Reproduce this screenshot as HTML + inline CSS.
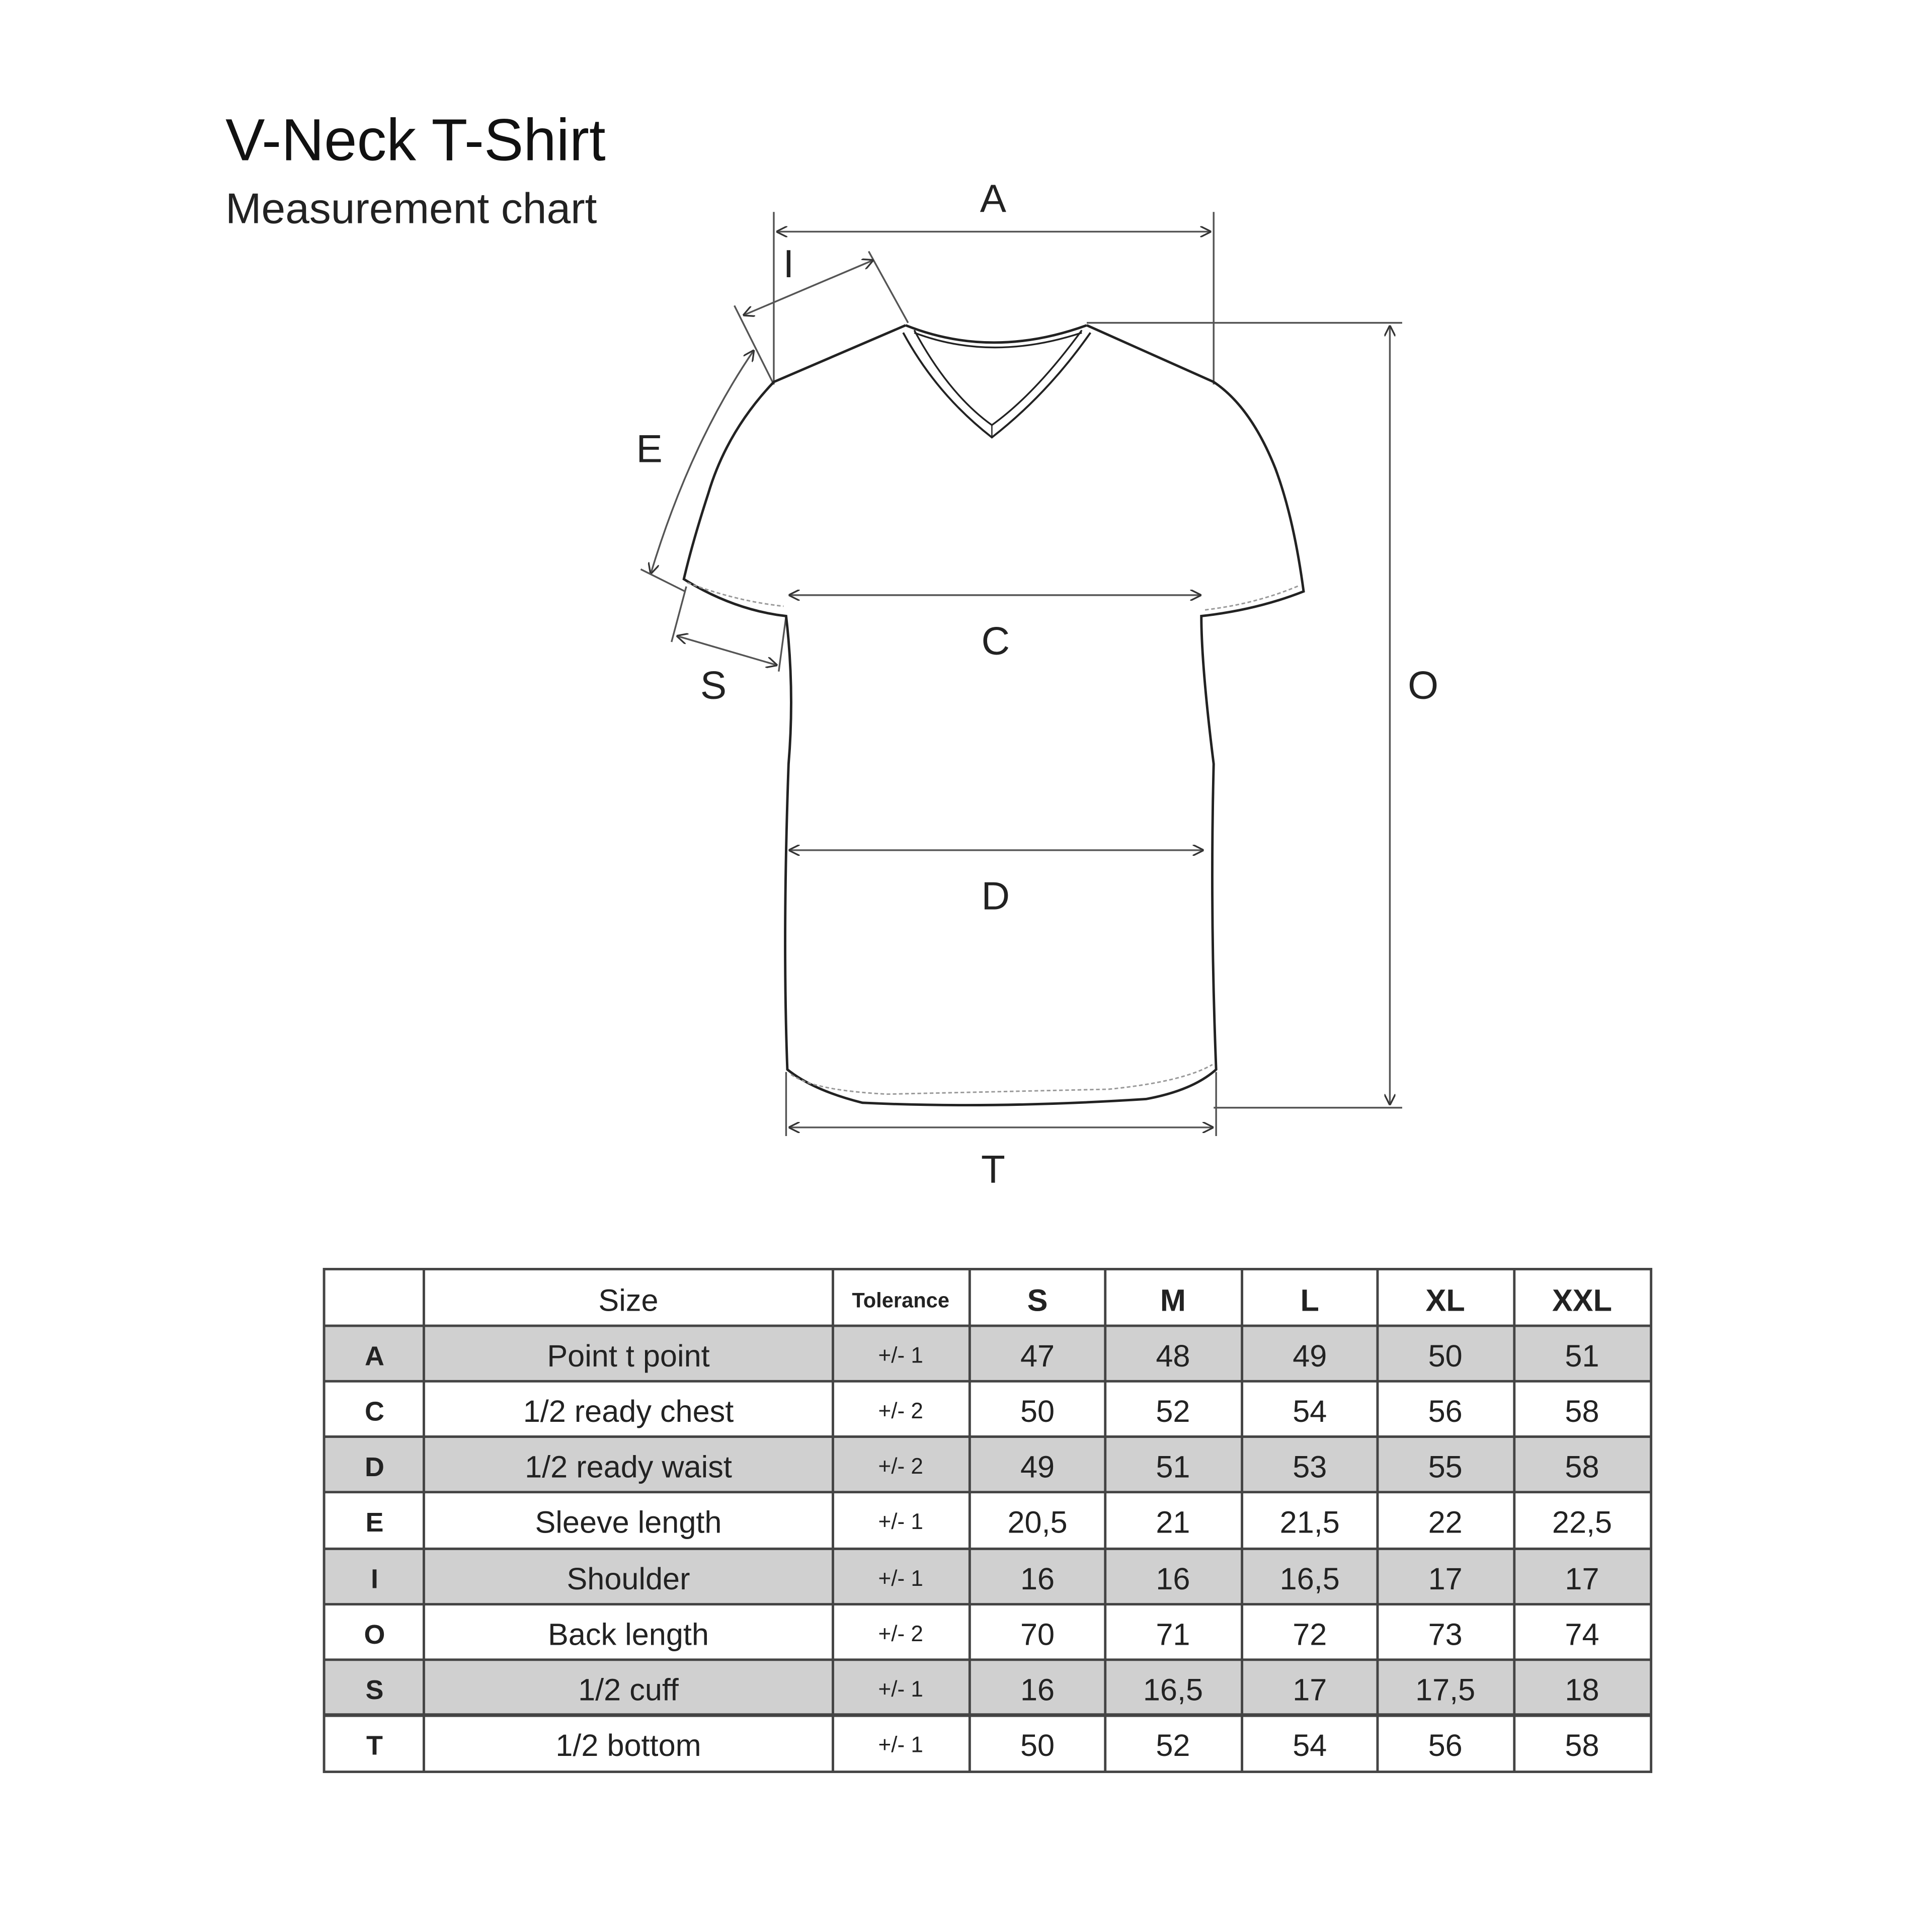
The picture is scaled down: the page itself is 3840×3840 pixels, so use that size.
<!DOCTYPE html>
<html><head><meta charset="utf-8"><style>html,body{margin:0;padding:0;background:#fff}svg{display:block}</style></head>
<body>
<svg width="3840" height="3840" viewBox="0 0 1568 1568" xmlns="http://www.w3.org/2000/svg" font-family="Liberation Sans, sans-serif">
<defs>
<marker id="ar" viewBox="0 0 10 10" refX="10" refY="5" markerWidth="9" markerHeight="9" orient="auto-start-reverse" markerUnits="userSpaceOnUse"><path d="M0,0 L10,5 L0,10" fill="none" stroke="#333" stroke-width="1.5"/></marker>
</defs>
<rect width="1568" height="1568" fill="#fff"/>
<text x="183" y="130" font-size="48" fill="#111">V-Neck T-Shirt</text>
<text x="183" y="181" font-size="35" fill="#222">Measurement chart</text>

<g fill="none" stroke="#555" stroke-width="1.4">
<line x1="628" y1="172" x2="628" y2="312"/><line x1="985" y1="172" x2="985" y2="312"/>
<line x1="630" y1="188" x2="983" y2="188" marker-start="url(#ar)" marker-end="url(#ar)"/>
<line x1="705" y1="204" x2="737" y2="262"/><line x1="596" y1="248" x2="628" y2="312"/>
<line x1="603" y1="256" x2="709" y2="211" marker-start="url(#ar)" marker-end="url(#ar)"/>
<path d="M612,284 Q560,360 528,466" marker-start="url(#ar)" marker-end="url(#ar)"/>
<line x1="520" y1="462" x2="556" y2="480"/>
<line x1="557" y1="476" x2="545" y2="521"/><line x1="638" y1="500" x2="632" y2="545"/>
<line x1="549" y1="516" x2="631" y2="540" marker-start="url(#ar)" marker-end="url(#ar)"/>
<line x1="640" y1="483" x2="975" y2="483" marker-start="url(#ar)" marker-end="url(#ar)"/>
<line x1="640" y1="690" x2="977" y2="690" marker-start="url(#ar)" marker-end="url(#ar)"/>
<line x1="638" y1="870" x2="638" y2="922"/><line x1="987" y1="870" x2="987" y2="922"/>
<line x1="640" y1="915" x2="985" y2="915" marker-start="url(#ar)" marker-end="url(#ar)"/>
<line x1="882" y1="262" x2="1138" y2="262"/><line x1="985" y1="899" x2="1138" y2="899"/>
<line x1="1128" y1="264" x2="1128" y2="897" marker-start="url(#ar)" marker-end="url(#ar)"/>
</g>

<g fill="none" stroke="#222" stroke-width="2">
<path d="M735,264 Q805,292 882,264"/>
<path d="M735,264 L628,310 Q590,350 575,400 Q562,440 555,470 Q595,495 638,500 Q645,560 640,620 Q635,760 639,868 Q660,885 700,895 Q805,900 930,892 Q968,885 987,868 Q982,740 985,620 Q975,540 975,500 Q1020,495 1058,480 Q1050,420 1035,380 Q1015,330 985,310 L882,264"/>
<path d="M733,270 Q760,320 805,355 Q850,320 885,270" stroke-width="1.6"/>
<path d="M742,268 Q770,320 805,345 Q840,320 878,268" stroke-width="1.4"/>
<path d="M742,270 Q805,294 878,270" stroke-width="1.4"/>
<line x1="805" y1="345" x2="805" y2="355" stroke-width="1"/>
</g>
<g fill="none" stroke="#999" stroke-width="1.2" stroke-dasharray="3,2">
<path d="M558,473 Q598,488 636,492"/>
<path d="M978,495 Q1020,490 1055,475"/>
<path d="M642,872 Q660,885 720,888 L900,884 Q960,878 984,864"/>
</g>

<g font-size="32" fill="#222" text-anchor="middle">
<text x="806" y="172">A</text>
<text x="640" y="225">I</text>
<text x="527" y="375">E</text>
<text x="808" y="531">C</text>
<text x="579" y="567">S</text>
<text x="1155" y="567">O</text>
<text x="808" y="738">D</text>
<text x="806" y="960">T</text>
</g>

<g>
<rect x="263" y="1076" width="1077" height="45" fill="#d0d0d0"/>
<rect x="263" y="1166" width="1077" height="45" fill="#d0d0d0"/>
<rect x="263" y="1257" width="1077" height="45" fill="#d0d0d0"/>
<rect x="263" y="1347" width="1077" height="45" fill="#d0d0d0"/>
<g stroke="#444" stroke-width="2" fill="none">
<rect x="263" y="1030" width="1077" height="408"/>
<line x1="263" y1="1076" x2="1340" y2="1076"/><line x1="263" y1="1121" x2="1340" y2="1121"/>
<line x1="263" y1="1166" x2="1340" y2="1166"/><line x1="263" y1="1211" x2="1340" y2="1211"/>
<line x1="263" y1="1257" x2="1340" y2="1257"/><line x1="263" y1="1302" x2="1340" y2="1302"/>
<line x1="263" y1="1347" x2="1340" y2="1347"/><line x1="263" y1="1392" x2="1340" y2="1392" stroke-width="3"/>
<line x1="344" y1="1030" x2="344" y2="1438"/><line x1="676" y1="1030" x2="676" y2="1438"/>
<line x1="787" y1="1030" x2="787" y2="1438"/><line x1="897" y1="1030" x2="897" y2="1438"/>
<line x1="1008" y1="1030" x2="1008" y2="1438"/><line x1="1118" y1="1030" x2="1118" y2="1438"/>
<line x1="1229" y1="1030" x2="1229" y2="1438"/>
</g>
<g font-size="25" fill="#222" text-anchor="middle">
<text x="510" y="1064">Size</text>
<text x="731" y="1061" font-size="17" font-weight="bold">Tolerance</text>
<g font-weight="bold"><text x="842" y="1064">S</text><text x="952" y="1064">M</text><text x="1063" y="1064">L</text><text x="1173" y="1064">XL</text><text x="1284" y="1064">XXL</text></g>
</g>
<g font-size="25" fill="#222" text-anchor="middle">
<g font-weight="bold" font-size="22">
<text x="304" y="1108">A</text><text x="304" y="1153">C</text><text x="304" y="1198">D</text><text x="304" y="1243">E</text><text x="304" y="1289">I</text><text x="304" y="1334">O</text><text x="304" y="1379">S</text><text x="304" y="1424">T</text>
</g>
<text x="510" y="1109">Point t point</text><text x="510" y="1154">1/2 ready chest</text><text x="510" y="1199">1/2 ready waist</text><text x="510" y="1244">Sleeve length</text><text x="510" y="1290">Shoulder</text><text x="510" y="1335">Back length</text><text x="510" y="1380">1/2 cuff</text><text x="510" y="1425">1/2 bottom</text>
<g font-size="18"><text x="731" y="1106">+/- 1</text><text x="731" y="1151">+/- 2</text><text x="731" y="1196">+/- 2</text><text x="731" y="1241">+/- 1</text><text x="731" y="1287">+/- 1</text><text x="731" y="1332">+/- 2</text><text x="731" y="1377">+/- 1</text><text x="731" y="1422">+/- 1</text></g>
<g><text x="842" y="1109">47</text><text x="952" y="1109">48</text><text x="1063" y="1109">49</text><text x="1173" y="1109">50</text><text x="1284" y="1109">51</text></g>
<g><text x="842" y="1154">50</text><text x="952" y="1154">52</text><text x="1063" y="1154">54</text><text x="1173" y="1154">56</text><text x="1284" y="1154">58</text></g>
<g><text x="842" y="1199">49</text><text x="952" y="1199">51</text><text x="1063" y="1199">53</text><text x="1173" y="1199">55</text><text x="1284" y="1199">58</text></g>
<g><text x="842" y="1244">20,5</text><text x="952" y="1244">21</text><text x="1063" y="1244">21,5</text><text x="1173" y="1244">22</text><text x="1284" y="1244">22,5</text></g>
<g><text x="842" y="1290">16</text><text x="952" y="1290">16</text><text x="1063" y="1290">16,5</text><text x="1173" y="1290">17</text><text x="1284" y="1290">17</text></g>
<g><text x="842" y="1335">70</text><text x="952" y="1335">71</text><text x="1063" y="1335">72</text><text x="1173" y="1335">73</text><text x="1284" y="1335">74</text></g>
<g><text x="842" y="1380">16</text><text x="952" y="1380">16,5</text><text x="1063" y="1380">17</text><text x="1173" y="1380">17,5</text><text x="1284" y="1380">18</text></g>
<g><text x="842" y="1425">50</text><text x="952" y="1425">52</text><text x="1063" y="1425">54</text><text x="1173" y="1425">56</text><text x="1284" y="1425">58</text></g>
</g>
</g>
</svg>
</body></html>
